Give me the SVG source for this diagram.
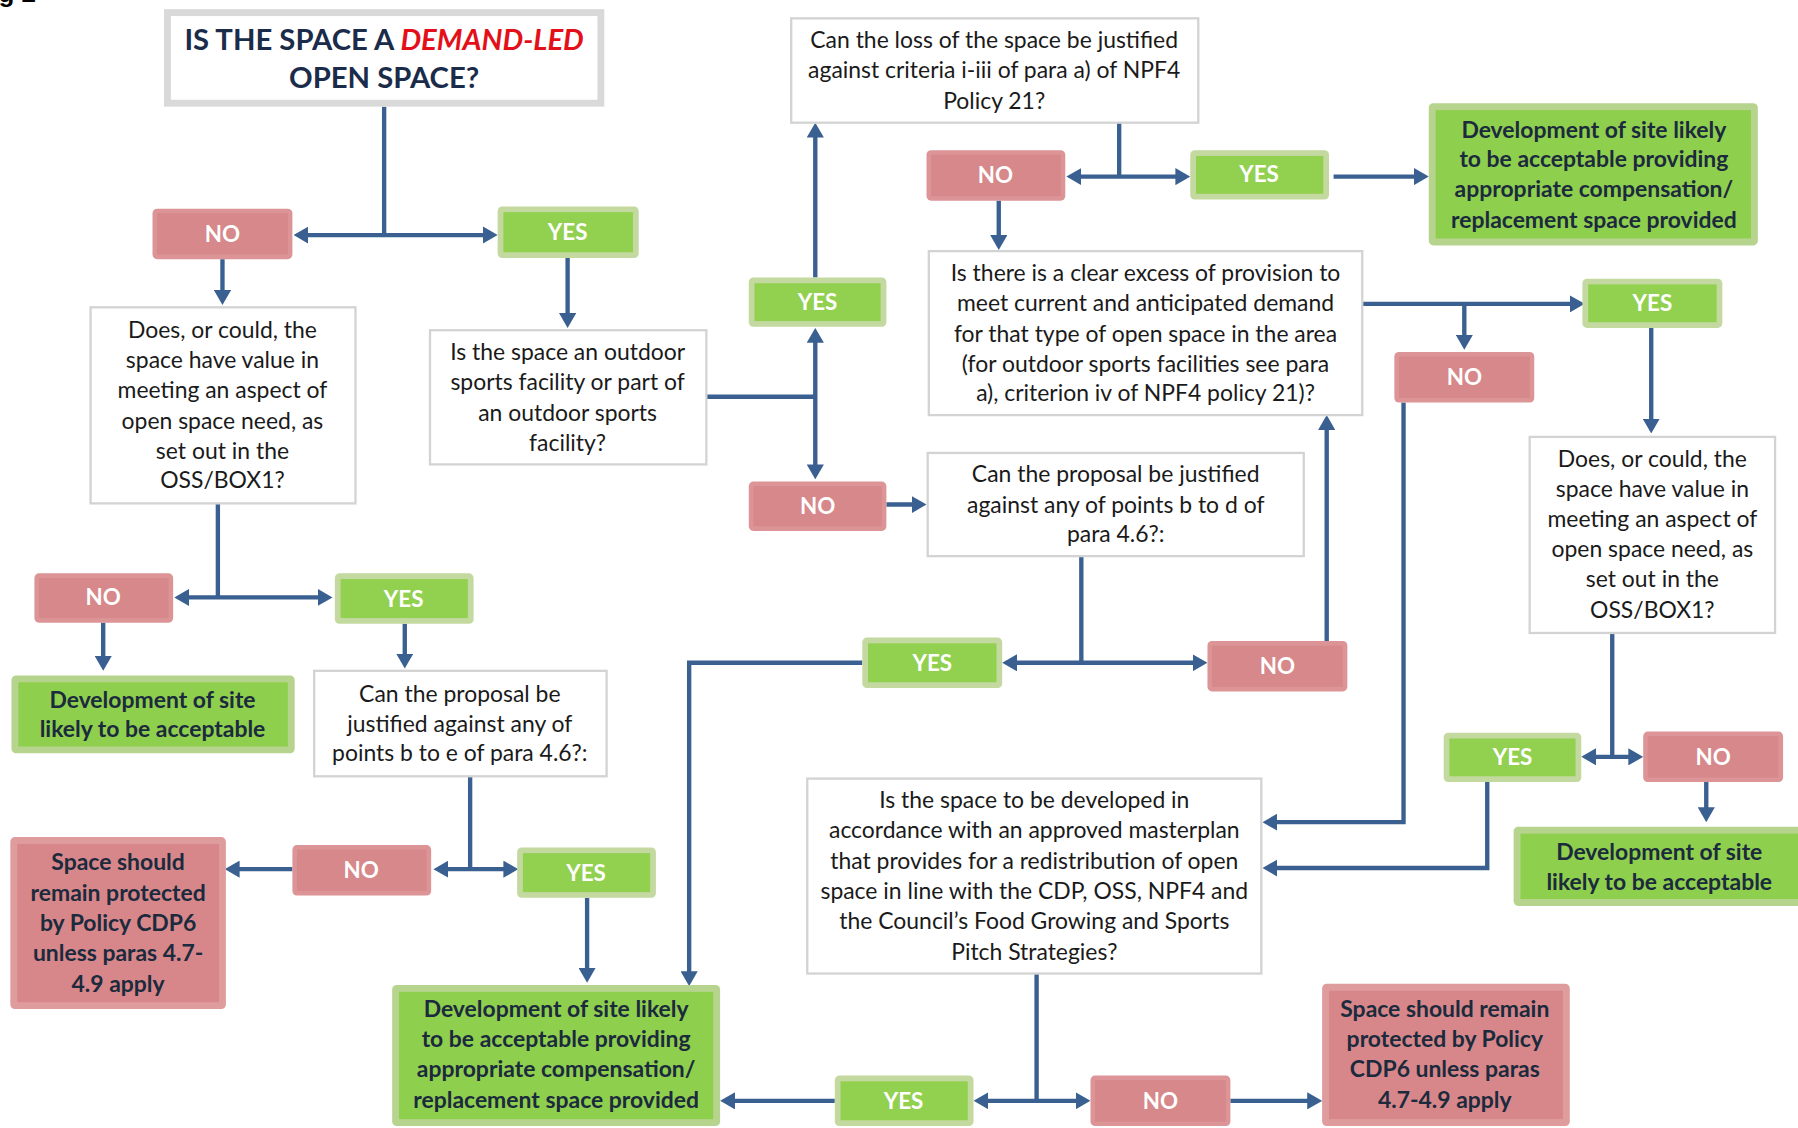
<svg xmlns="http://www.w3.org/2000/svg" width="1798" height="1128" viewBox="0 0 1798 1128">
<style>
.bg{fill:#ffffff}
.q{fill:#ffffff;stroke:#d3d3d3;stroke-width:2}
.qt{font-family:Lato,"Open Sans","Liberation Sans",sans-serif;font-size:20px;fill:#1a1a1a;text-anchor:middle}
.ot{font-family:Lato,"Open Sans","Liberation Sans",sans-serif;font-size:20px;font-weight:bold;fill:#1b2a3c;text-anchor:middle}
.lt{font-family:Lato,"Open Sans","Liberation Sans",sans-serif;font-size:19.5px;font-weight:bold;fill:#ffffff;text-anchor:middle}
.noO{fill:#dc9496}
.noI{fill:#d6888a}
.yesO{fill:#c3d9a0}
.yesI{fill:#92d050}
.gO{fill:#b7d48e}
.gI{fill:#8fcf4e}
.rO{fill:#df9c9d}
.rI{fill:#d7878a}
.c{fill:none;stroke:#3a5f91;stroke-width:3.8}
.ar{marker-end:url(#ah)}
.dar{marker-end:url(#ah);marker-start:url(#ah)}
</style>
<defs>
<marker id="ah" markerUnits="userSpaceOnUse" viewBox="0 0 13 15" markerWidth="13" markerHeight="15" refX="9" refY="7.5" orient="auto-start-reverse">
<path d="M0,0 L13,7.5 L0,15 z" fill="#3a5f91"/>
</marker>
</defs>
<rect class="bg" x="0" y="0" width="1798" height="1128"/>
<text x="36" y="2" font-family="Liberation Sans,Arial,sans-serif" font-size="26" font-weight="bold" text-anchor="end" fill="#000">Fig 2</text>
<g transform="scale(1.14668)">
<g id="connectors">
<path class="c" d="M335,93 V205"/>
<path class="c dar" d="M260,205 H430"/>
<path class="c ar" d="M194,226 V262"/>
<path class="c ar" d="M495,225 V282"/>
<path class="c" d="M616,346 H711"/>
<path class="c dar" d="M711,290 V414"/>
<path class="c ar" d="M711,242 V111"/>
<path class="c" d="M976,107 V154"/>
<path class="c dar" d="M934,154 H1034"/>
<path class="c ar" d="M1163,154 H1242"/>
<path class="c ar" d="M871,175 V214"/>
<path class="c ar" d="M1188,265 H1378"/>
<path class="c ar" d="M1277,265 V301"/>
<path class="c ar" d="M1440,286 V374"/>
<path class="c" d="M1406,552 V660"/>
<path class="c dar" d="M1383,660 H1429"/>
<path class="c ar" d="M1488,682 V713"/>
<path class="c ar" d="M1297,682 V757 H1105"/>
<path class="c ar" d="M1224,351 V717 H1105"/>
<path class="c" d="M904,849 V960"/>
<path class="c dar" d="M853,960 H947"/>
<path class="c ar" d="M1073,960 H1149"/>
<path class="c ar" d="M728,960 H632"/>
<path class="c ar" d="M773,440 H804"/>
<path class="c" d="M943,485 V578"/>
<path class="c dar" d="M878,578 H1049"/>
<path class="c ar" d="M1157,559 V366"/>
<path class="c ar" d="M752,578 H601 V856"/>
<path class="c" d="M190,439 V521"/>
<path class="c dar" d="M156,521 H286"/>
<path class="c ar" d="M90,543 V581"/>
<path class="c ar" d="M353,544 V579"/>
<path class="c" d="M410,677 V758"/>
<path class="c dar" d="M382,758 H448"/>
<path class="c ar" d="M255,758 H200"/>
<path class="c ar" d="M512,783 V853"/>
</g>

<g id="title">
<rect x="146" y="11" width="378" height="79" fill="#fff" stroke="#d9d9d9" stroke-width="6"/>
<text x="335" y="44" font-family="Lato,'Open Sans',sans-serif" font-size="25.5" font-weight="bold" fill="#1b2c4a" text-anchor="middle">IS THE SPACE A <tspan fill="#e3101a" font-style="italic">DEMAND-LED</tspan></text>
<text x="335" y="77" font-family="Lato,'Open Sans',sans-serif" font-size="25.5" font-weight="bold" fill="#1b2c4a" text-anchor="middle">OPEN SPACE?</text>
</g>

<g id="no1"><rect class="noO" x="133" y="182" width="122" height="44" rx="4"/><rect class="noI" x="137" y="186" width="114" height="36"/><text class="lt" x="194" y="211">NO</text></g>
<g id="yes1"><rect class="yesO" x="434" y="180" width="123" height="45" rx="4"/><rect class="yesI" x="439" y="185" width="113" height="35"/><text class="lt" x="495" y="209">YES</text></g>
<g id="yes2"><rect class="yesO" x="653" y="242" width="120" height="43" rx="4"/><rect class="yesI" x="658" y="247" width="110" height="33"/><text class="lt" x="713" y="270">YES</text></g>
<g id="no2"><rect class="noO" x="653" y="420" width="120" height="43" rx="4"/><rect class="noI" x="657" y="424" width="112" height="35"/><text class="lt" x="713" y="448">NO</text></g>
<g id="no3"><rect class="noO" x="808" y="131" width="121" height="44" rx="4"/><rect class="noI" x="812" y="135" width="113" height="36"/><text class="lt" x="868" y="160">NO</text></g>
<g id="yes3"><rect class="yesO" x="1038" y="131" width="121" height="43" rx="4"/><rect class="yesI" x="1043" y="136" width="111" height="33"/><text class="lt" x="1098" y="159">YES</text></g>
<g id="yes4"><rect class="yesO" x="1380" y="243" width="122" height="43" rx="4"/><rect class="yesI" x="1385" y="248" width="112" height="33"/><text class="lt" x="1441" y="271">YES</text></g>
<g id="no4"><rect class="noO" x="1216" y="307" width="122" height="44" rx="4"/><rect class="noI" x="1220" y="311" width="114" height="36"/><text class="lt" x="1277" y="336">NO</text></g>
<g id="yes5"><rect class="yesO" x="1259" y="639" width="120" height="43" rx="4"/><rect class="yesI" x="1264" y="644" width="110" height="33"/><text class="lt" x="1319" y="667">YES</text></g>
<g id="no5"><rect class="noO" x="1433" y="638" width="122" height="44" rx="4"/><rect class="noI" x="1437" y="642" width="114" height="36"/><text class="lt" x="1494" y="667">NO</text></g>
<g id="yes6"><rect class="yesO" x="728" y="938" width="121" height="44" rx="4"/><rect class="yesI" x="733" y="943" width="111" height="34"/><text class="lt" x="788" y="967">YES</text></g>
<g id="no6"><rect class="noO" x="951" y="938" width="122" height="44" rx="4"/><rect class="noI" x="955" y="942" width="114" height="36"/><text class="lt" x="1012" y="967">NO</text></g>
<g id="yes7"><rect class="yesO" x="752" y="556" width="122" height="44" rx="4"/><rect class="yesI" x="757" y="561" width="112" height="34"/><text class="lt" x="813" y="585">YES</text></g>
<g id="no7"><rect class="noO" x="1053" y="559" width="122" height="44" rx="4"/><rect class="noI" x="1057" y="563" width="114" height="36"/><text class="lt" x="1114" y="588">NO</text></g>
<g id="no8"><rect class="noO" x="30" y="500" width="121" height="43" rx="4"/><rect class="noI" x="34" y="504" width="113" height="35"/><text class="lt" x="90" y="528">NO</text></g>
<g id="yes8"><rect class="yesO" x="292" y="500" width="121" height="44" rx="4"/><rect class="yesI" x="297" y="505" width="111" height="34"/><text class="lt" x="352" y="529">YES</text></g>
<g id="no9"><rect class="noO" x="255" y="737" width="121" height="44" rx="4"/><rect class="noI" x="259" y="741" width="113" height="36"/><text class="lt" x="315" y="766">NO</text></g>
<g id="yes9"><rect class="yesO" x="451" y="739" width="121" height="44" rx="4"/><rect class="yesI" x="456" y="744" width="111" height="34"/><text class="lt" x="511" y="768">YES</text></g>

<g id="q1"><rect class="q" x="79" y="268" width="231" height="171"/>
<text class="qt" x="194" y="295">Does, or could, the</text>
<text class="qt" x="194" y="321">space have value in</text>
<text class="qt" x="194" y="347">meeting an aspect of</text>
<text class="qt" x="194" y="374">open space need, as</text>
<text class="qt" x="194" y="400">set out in the</text>
<text class="qt" x="194" y="426">OSS/BOX1?</text></g>

<g id="q2"><rect class="q" x="375" y="288" width="241" height="117"/>
<text class="qt" x="495" y="314">Is the space an outdoor</text>
<text class="qt" x="495" y="340">sports facility or part of</text>
<text class="qt" x="495" y="367">an outdoor sports</text>
<text class="qt" x="495" y="393">facility?</text></g>

<g id="q3"><rect class="q" x="690" y="16" width="355" height="91"/>
<text class="qt" x="867" y="42">Can the loss of the space be justified</text>
<text class="qt" x="867" y="68">against criteria i-iii of para a) of NPF4</text>
<text class="qt" x="867" y="95">Policy 21?</text></g>

<g id="q4"><rect class="q" x="810" y="219" width="378" height="143"/>
<text class="qt" x="999" y="245">Is there is a clear excess of provision to</text>
<text class="qt" x="999" y="271">meet current and anticipated demand</text>
<text class="qt" x="999" y="298">for that type of open space in the area</text>
<text class="qt" x="999" y="324">(for outdoor sports facilities see para</text>
<text class="qt" x="999" y="350">a), criterion iv of NPF4 policy 21)?</text></g>

<g id="q5"><rect class="q" x="1334" y="381" width="214" height="171"/>
<text class="qt" x="1441" y="407">Does, or could, the</text>
<text class="qt" x="1441" y="433">space have value in</text>
<text class="qt" x="1441" y="460">meeting an aspect of</text>
<text class="qt" x="1441" y="486">open space need, as</text>
<text class="qt" x="1441" y="512">set out in the</text>
<text class="qt" x="1441" y="539">OSS/BOX1?</text></g>

<g id="q6"><rect class="q" x="809" y="395" width="328" height="90"/>
<text class="qt" x="973" y="420">Can the proposal be justified</text>
<text class="qt" x="973" y="447">against any of points b to d of</text>
<text class="qt" x="973" y="473">para 4.6?:</text></g>

<g id="q7"><rect class="q" x="274" y="585" width="255" height="92"/>
<text class="qt" x="401" y="612">Can the proposal be</text>
<text class="qt" x="401" y="638">justified against any of</text>
<text class="qt" x="401" y="664">points b to e of para 4.6?:</text></g>

<g id="q8"><rect class="q" x="704" y="679" width="396" height="170"/>
<text class="qt" x="902" y="705">Is the space to be developed in</text>
<text class="qt" x="902" y="731">accordance with an approved masterplan</text>
<text class="qt" x="902" y="758">that provides for a redistribution of open</text>
<text class="qt" x="902" y="784">space in line with the CDP, OSS, NPF4 and</text>
<text class="qt" x="902" y="810">the Council’s Food Growing and Sports</text>
<text class="qt" x="902" y="837">Pitch Strategies?</text></g>

<g id="g1"><rect class="gO" x="1246" y="90" width="287" height="124" rx="4"/><rect class="gI" x="1252" y="96" width="275" height="112"/>
<text class="ot" x="1390" y="120">Development of site likely</text>
<text class="ot" x="1390" y="146">to be acceptable providing</text>
<text class="ot" x="1390" y="172">appropriate compensation/</text>
<text class="ot" x="1390" y="199">replacement space provided</text></g>

<g id="g2"><rect class="gO" x="10" y="589" width="247" height="68" rx="4"/><rect class="gI" x="16" y="595" width="235" height="56"/>
<text class="ot" x="133" y="617">Development of site</text>
<text class="ot" x="133" y="643">likely to be acceptable</text></g>

<g id="g3"><rect class="gO" x="1320" y="721" width="260" height="69" rx="4"/><rect class="gI" x="1326" y="727" width="260" height="57"/>
<text class="ot" x="1447" y="750">Development of site</text>
<text class="ot" x="1447" y="776">likely to be acceptable</text></g>

<g id="g4"><rect class="gO" x="342" y="859" width="286" height="123" rx="4"/><rect class="gI" x="348" y="865" width="274" height="111"/>
<text class="ot" x="485" y="887">Development of site likely</text>
<text class="ot" x="485" y="913">to be acceptable providing</text>
<text class="ot" x="485" y="939">appropriate compensation/</text>
<text class="ot" x="485" y="966">replacement space provided</text></g>

<g id="r1"><rect class="rO" x="9" y="730" width="188" height="150" rx="4"/><rect class="rI" x="15" y="736" width="176" height="138"/>
<text class="ot" x="103" y="759">Space should</text>
<text class="ot" x="103" y="786">remain protected</text>
<text class="ot" x="103" y="812">by Policy CDP6</text>
<text class="ot" x="103" y="838">unless paras 4.7-</text>
<text class="ot" x="103" y="865">4.9 apply</text></g>

<g id="r2"><rect class="rO" x="1153" y="858" width="216" height="124" rx="4"/><rect class="rI" x="1159" y="864" width="204" height="112"/>
<text class="ot" x="1260" y="887">Space should remain</text>
<text class="ot" x="1260" y="913">protected by Policy</text>
<text class="ot" x="1260" y="939">CDP6 unless paras</text>
<text class="ot" x="1260" y="966">4.7-4.9 apply</text></g>
</g>
</svg>
